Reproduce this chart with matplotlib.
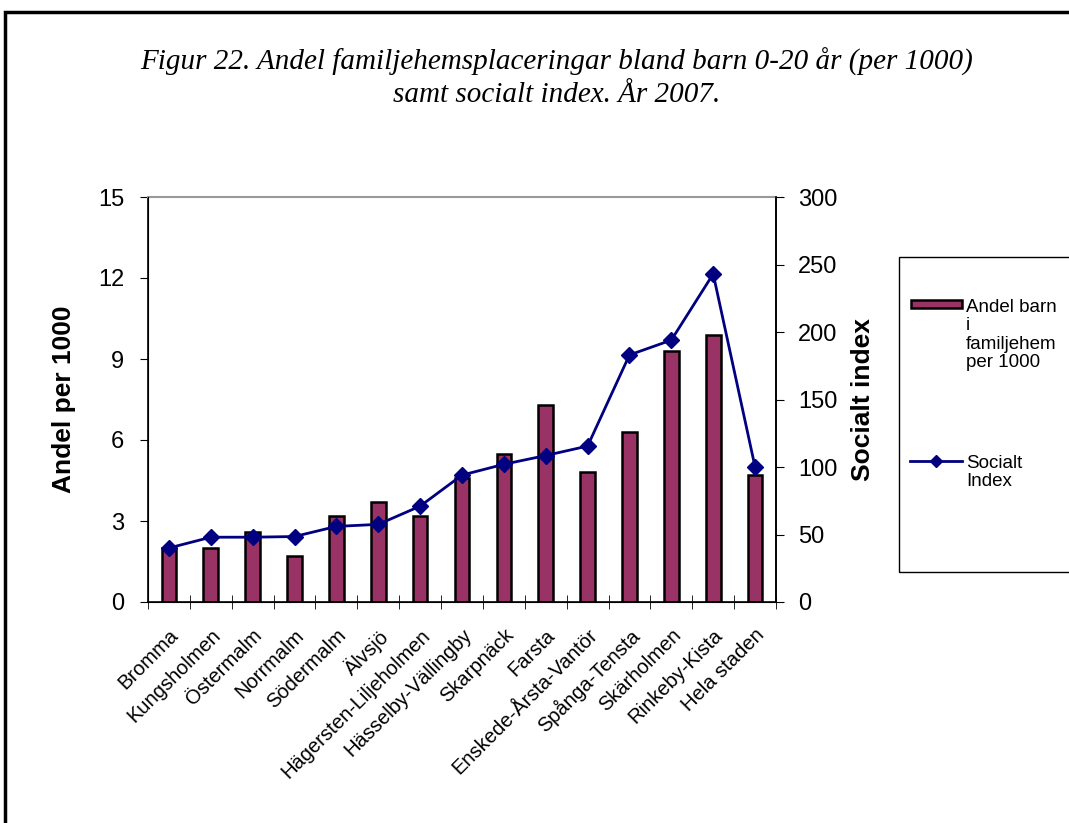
import numpy as np
import matplotlib.pyplot as plt
from matplotlib.patches import Rectangle
from matplotlib.lines import Line2D

# Data
omraden = ['Bromma', 'Kungsholmen', 'Östermalm', 'Norrmalm', 'Södermalm', 'Älvsjö',
           'Hägersten-Liljeholmen', 'Hässelby-Vällingby', 'Skarpnäck', 'Farsta',
           'Enskede-Årsta-Vantör', 'Spånga-Tensta', 'Skärholmen', 'Rinkeby-Kista',
           'Hela staden']
andel_per_1000 = [2.0, 2.0, 2.6, 1.7, 3.2, 3.7, 3.2, 4.6, 5.5, 7.3, 4.8, 6.3, 9.3, 9.9, 4.7]
socialt_index = [40, 48, 48, 48.5, 56, 57.5, 71, 94, 102, 108.5, 115.5, 183, 194, 243, 100]

plt.rcParams['font.family'] = ['Liberation Sans', 'DejaVu Sans']

W, H = 1069, 823
fig = plt.figure(figsize=(W / 100, H / 100), dpi=100)

# outer frame
fig.patches.append(Rectangle((5 / W, -0.1), 1.2, 1 - 12 / H + 0.1, transform=fig.transFigure,
                             fill=False, edgecolor='black', linewidth=2.5))

fig.text(0.521, 0.925, 'Figur 22. Andel familjehemsplaceringar bland barn 0-20 år (per 1000)',
         family='Liberation Serif', style='italic', fontsize=21, ha='center', va='center')
fig.text(0.521, 0.884, 'samt socialt index. År 2007.',
         family='Liberation Serif', style='italic', fontsize=21, ha='center', va='center')

ax = fig.add_axes([148 / W, 1 - 602 / H, (776 - 148) / W, 405 / H])
x = np.arange(len(omraden))
ax.bar(x, andel_per_1000, width=0.35, color='#993366', edgecolor='black', linewidth=1.8, zorder=2)
ax.set_xlim(-0.5, len(omraden) - 0.5)
ax.set_ylim(0, 15)
ax.set_yticks([0, 3, 6, 9, 12, 15])
ax.set_ylabel('Andel per 1000', fontsize=19, fontweight='bold', labelpad=16)
ax.tick_params(axis='y', direction='out', length=6, labelsize=17, pad=11)
ax.set_xticks(x)
ax.set_xticklabels(omraden, rotation=45, ha='right', rotation_mode='anchor', fontsize=14.5)
ax.set_xticks(np.arange(-0.5, len(omraden)), minor=True)
ax.tick_params(axis='x', which='major', length=0, pad=17)
ax.tick_params(axis='x', which='minor', direction='inout', length=10)
ax.spines['top'].set_color('#999999')
ax.spines['top'].set_linewidth(1.5)
for s in ['left', 'bottom', 'right']:
    ax.spines[s].set_linewidth(1.2)

ax2 = ax.twinx()
ax2.plot(x, socialt_index, color='#000080', linewidth=2, marker='D', markersize=8, zorder=3)
ax2.set_ylim(0, 300)
ax2.set_yticks([0, 50, 100, 150, 200, 250, 300])
ax2.set_ylabel('Socialt index', fontsize=19, fontweight='bold', labelpad=10)
ax2.tick_params(axis='y', direction='out', length=6, labelsize=17, pad=10)
ax2.spines['top'].set_visible(False)
ax2.spines['right'].set_linewidth(1.2)

# legend box
fig.patches.append(Rectangle((899 / W, 1 - 572 / H), 0.2, 315 / H, transform=fig.transFigure,
                             fill=False, edgecolor='black', linewidth=1))
fig.patches.append(Rectangle((911 / W, 1 - 308 / H), 51 / W, 8 / H, transform=fig.transFigure,
                             facecolor='#993366', edgecolor='black', linewidth=1.8))
fig.text(966 / W, 1 - 299 / H, 'Andel barn\ni\nfamiljehem\nper 1000', fontsize=13.5,
         va='top', ha='left', linespacing=1.1)
fig.lines.append(Line2D([910 / W, 962 / W], [1 - 461 / H, 1 - 461 / H], transform=fig.transFigure,
                        color='#000080', linewidth=2))
fig.lines.append(Line2D([936 / W], [1 - 461 / H], transform=fig.transFigure,
                        color='#000080', marker='D', markersize=6))
fig.text(966 / W, 1 - 455 / H, 'Socialt\nIndex', fontsize=13.5, va='top', ha='left', linespacing=1.1)

fig.savefig('out.png', dpi=100)
